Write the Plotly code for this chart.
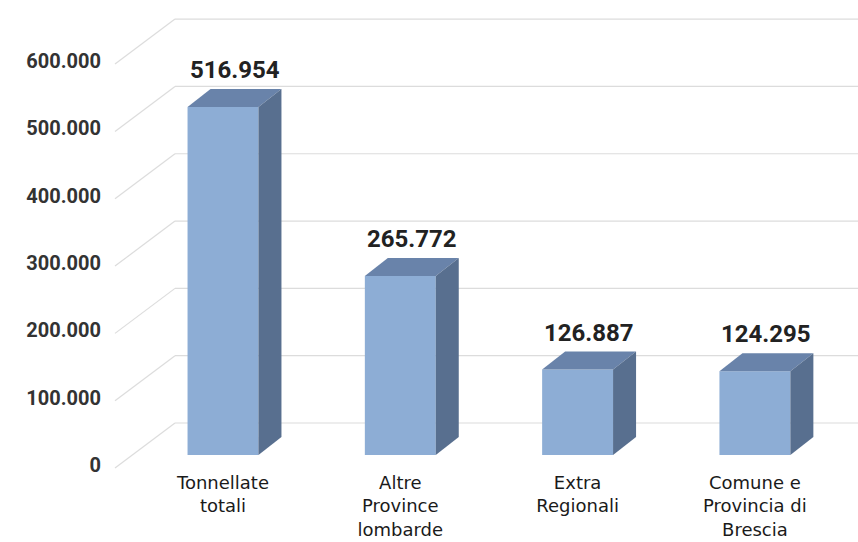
import plotly.graph_objects as go

# ---- data ----
categories = ["Tonnellate<br>totali", "Altre<br>Province<br>lombarde", "Extra<br>Regionali",
              "Comune e<br>Provincia di<br>Brescia"]
values = [516954, 265772, 126887, 124295]
value_labels = ["516.954", "265.772", "126.887", "124.295"]
y_ticks = [0, 100000, 200000, 300000, 400000, 500000, 600000]
y_tick_labels = ["0", "100.000", "200.000", "300.000", "400.000", "500.000", "600.000"]

# ---- geometry helpers (pixel sizes -> axis units) ----
PX_PER_X = 177.3          # pixels per category step
PX_PER_V = 348 / 516954   # pixels per value unit
def ux(px):
    return px / PX_PER_X
def uv(px):
    return px / PX_PER_V

BAR_W = 0.4
DX, DY = ux(23), uv(18)          # depth offset of bars
WALL_X = ux(175 - 223)           # back wall start (x units)
FLOOR_X = ux(115 - 223)          # front floor edge
BACK_DV, FRONT_DV = uv(32), -uv(13)
X_RANGE = [ux(110 - 223), ux(858 - 223)]
Y_RANGE = [-uv(15), uv(450)]

FRONT = "#8DADD5"
TOP = "#6983AA"
SIDE = "#586F8F"
GRID = "#DCDCDC"

fig = go.Figure()

# front faces
fig.add_trace(go.Bar(x=list(range(len(values))), y=values, width=BAR_W,
                     marker=dict(color=FRONT, line=dict(width=0)),
                     hoverinfo="skip", showlegend=False))

# top and side faces
for i, v in enumerate(values):
    x0, x1 = i - BAR_W / 2, i + BAR_W / 2
    fig.add_trace(go.Scatter(x=[x0, x0 + DX, x1 + DX, x1, x0], y=[v, v + DY, v + DY, v, v],
                             fill="toself", fillcolor=TOP, mode="lines",
                             line=dict(width=0, color=TOP), hoverinfo="skip", showlegend=False))
    fig.add_trace(go.Scatter(x=[x1, x1 + DX, x1 + DX, x1, x1], y=[0, DY, v + DY, v, 0],
                             fill="toself", fillcolor=SIDE, mode="lines",
                             line=dict(width=0, color=SIDE), hoverinfo="skip", showlegend=False))

# perspective gridlines
shapes = []
for t in y_ticks:
    shapes.append(dict(type="line", xref="x", yref="y", layer="below",
                       x0=FLOOR_X, y0=t + FRONT_DV, x1=WALL_X, y1=t + BACK_DV,
                       line=dict(color=GRID, width=1.2)))
    shapes.append(dict(type="line", xref="x", yref="y", layer="below",
                       x0=WALL_X, y0=t + BACK_DV, x1=X_RANGE[1] + 0.1, y1=t + BACK_DV,
                       line=dict(color=GRID, width=1.2)))

# value labels
annotations = []
for i, (v, lab) in enumerate(zip(values, value_labels)):
    annotations.append(dict(x=i + DX / 2, y=v + DY + uv(19), text=lab, showarrow=False,
                            xanchor="center", yanchor="middle",
                            font=dict(family="Roboto", size=24, color="#222222", weight="bold")))

fig.update_layout(
    width=858, height=542,
    margin=dict(l=110, r=0, t=5, b=72),
    plot_bgcolor="white", paper_bgcolor="white",
    shapes=shapes, annotations=annotations,
    xaxis=dict(range=X_RANGE, tickvals=list(range(len(categories))), ticktext=categories,
               showgrid=False, zeroline=False, showline=False, ticks="",
               tickfont=dict(family="DejaVu Sans", size=18, color="#1A1A1A")),
    yaxis=dict(range=Y_RANGE, tickvals=y_ticks, ticktext=y_tick_labels,
               showgrid=False, zeroline=False, showline=False, ticks="",
               ticklabelshift=10, ticklabelstandoff=8,
               tickfont=dict(family="Roboto", size=20, color="#333333", weight="bold")),
    showlegend=False,
)

fig.write_html("out.html")
